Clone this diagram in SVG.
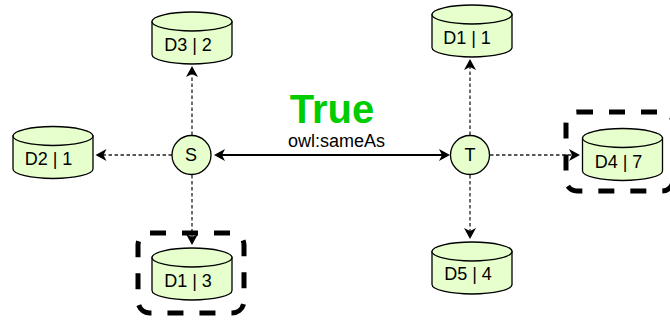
<svg xmlns="http://www.w3.org/2000/svg" width="670" height="320" viewBox="0 0 670 320">
<style>
.n{fill:#e6ffcc;stroke:#000;stroke-width:1.3}
.l{font-family:"Liberation Sans",Arial,sans-serif;font-size:18px;fill:#000;text-anchor:middle}
.d{fill:none;stroke:#222;stroke-width:1.3;stroke-dasharray:3.500 2.500}
.h{fill:none;stroke:#000;stroke-width:5;stroke-dasharray:16 16}
</style>
<defs>
<marker id="a" markerUnits="userSpaceOnUse" markerWidth="13" markerHeight="13" refX="6" refY="6.500" orient="auto-start-reverse"><path d="M11 6.500L0 0.500L3 6.500L0 12.500Z" fill="#000"/></marker>
<g id="c"><path d="M0 10V43C0 48.200 17.900 52.500 40 52.500S80 48.200 80 43V10Z"/><ellipse cx="40" cy="10" rx="40" ry="9.500"/></g>
</defs>
<rect width="670" height="320" fill="#fff"/>
<g id="connectors">
<path class="d" d="M192 135V71" marker-end="url(#a)"/>
<path class="d" d="M172 155H100.500" marker-end="url(#a)"/>
<path class="d" d="M192 175V240" marker-end="url(#a)"/>
<path class="d" d="M470 135V64" marker-end="url(#a)"/>
<path class="d" d="M490 155H575" marker-end="url(#a)"/>
<path class="d" d="M470 175V234" marker-end="url(#a)"/>
<path d="M219 155H445" fill="none" stroke="#000" stroke-width="1.800" marker-start="url(#a)" marker-end="url(#a)"/>
</g>
<g id="highlight-d1-3"><rect class="h" x="138" y="233" width="106" height="80" rx="12"/></g>
<g id="highlight-d4-7"><rect class="h" x="566" y="112" width="107" height="79" rx="11"/></g>
<g id="node-d3-2" class="n"><use href="#c" x="152" y="11.500"/><text class="l" x="188" y="51" stroke="none">D3 | 2</text></g>
<g id="node-d2-1" class="n"><use href="#c" x="13" y="126"/><text class="l" x="48.500" y="165" stroke="none">D2 | 1</text></g>
<g id="node-d1-3" class="n"><use href="#c" x="152" y="247.500"/><text class="l" x="188" y="287" stroke="none">D1 | 3</text></g>
<g id="node-d1-1" class="n"><use href="#c" x="432" y="4.500"/><text class="l" x="467" y="44" stroke="none">D1 | 1</text></g>
<g id="node-d4-7" class="n"><use href="#c" x="582.500" y="128"/><text class="l" x="618.500" y="168" stroke="none">D4 | 7</text></g>
<g id="node-d5-4" class="n"><use href="#c" x="432" y="241.500"/><text class="l" x="468" y="280" stroke="none">D5 | 4</text></g>
<g id="node-s"><circle class="n" cx="191.500" cy="155" r="19.500"/><text class="l" x="191" y="161">S</text></g>
<g id="node-t"><circle class="n" cx="470" cy="155" r="19.500"/><text class="l" x="470" y="160.500">T</text></g>
<text x="332" y="123" text-anchor="middle" font-family="Liberation Sans,Arial,sans-serif" font-size="40" font-weight="bold" fill="#00cc00">True</text>
<text class="l" x="336.500" y="147">owl:sameAs</text>
</svg>
